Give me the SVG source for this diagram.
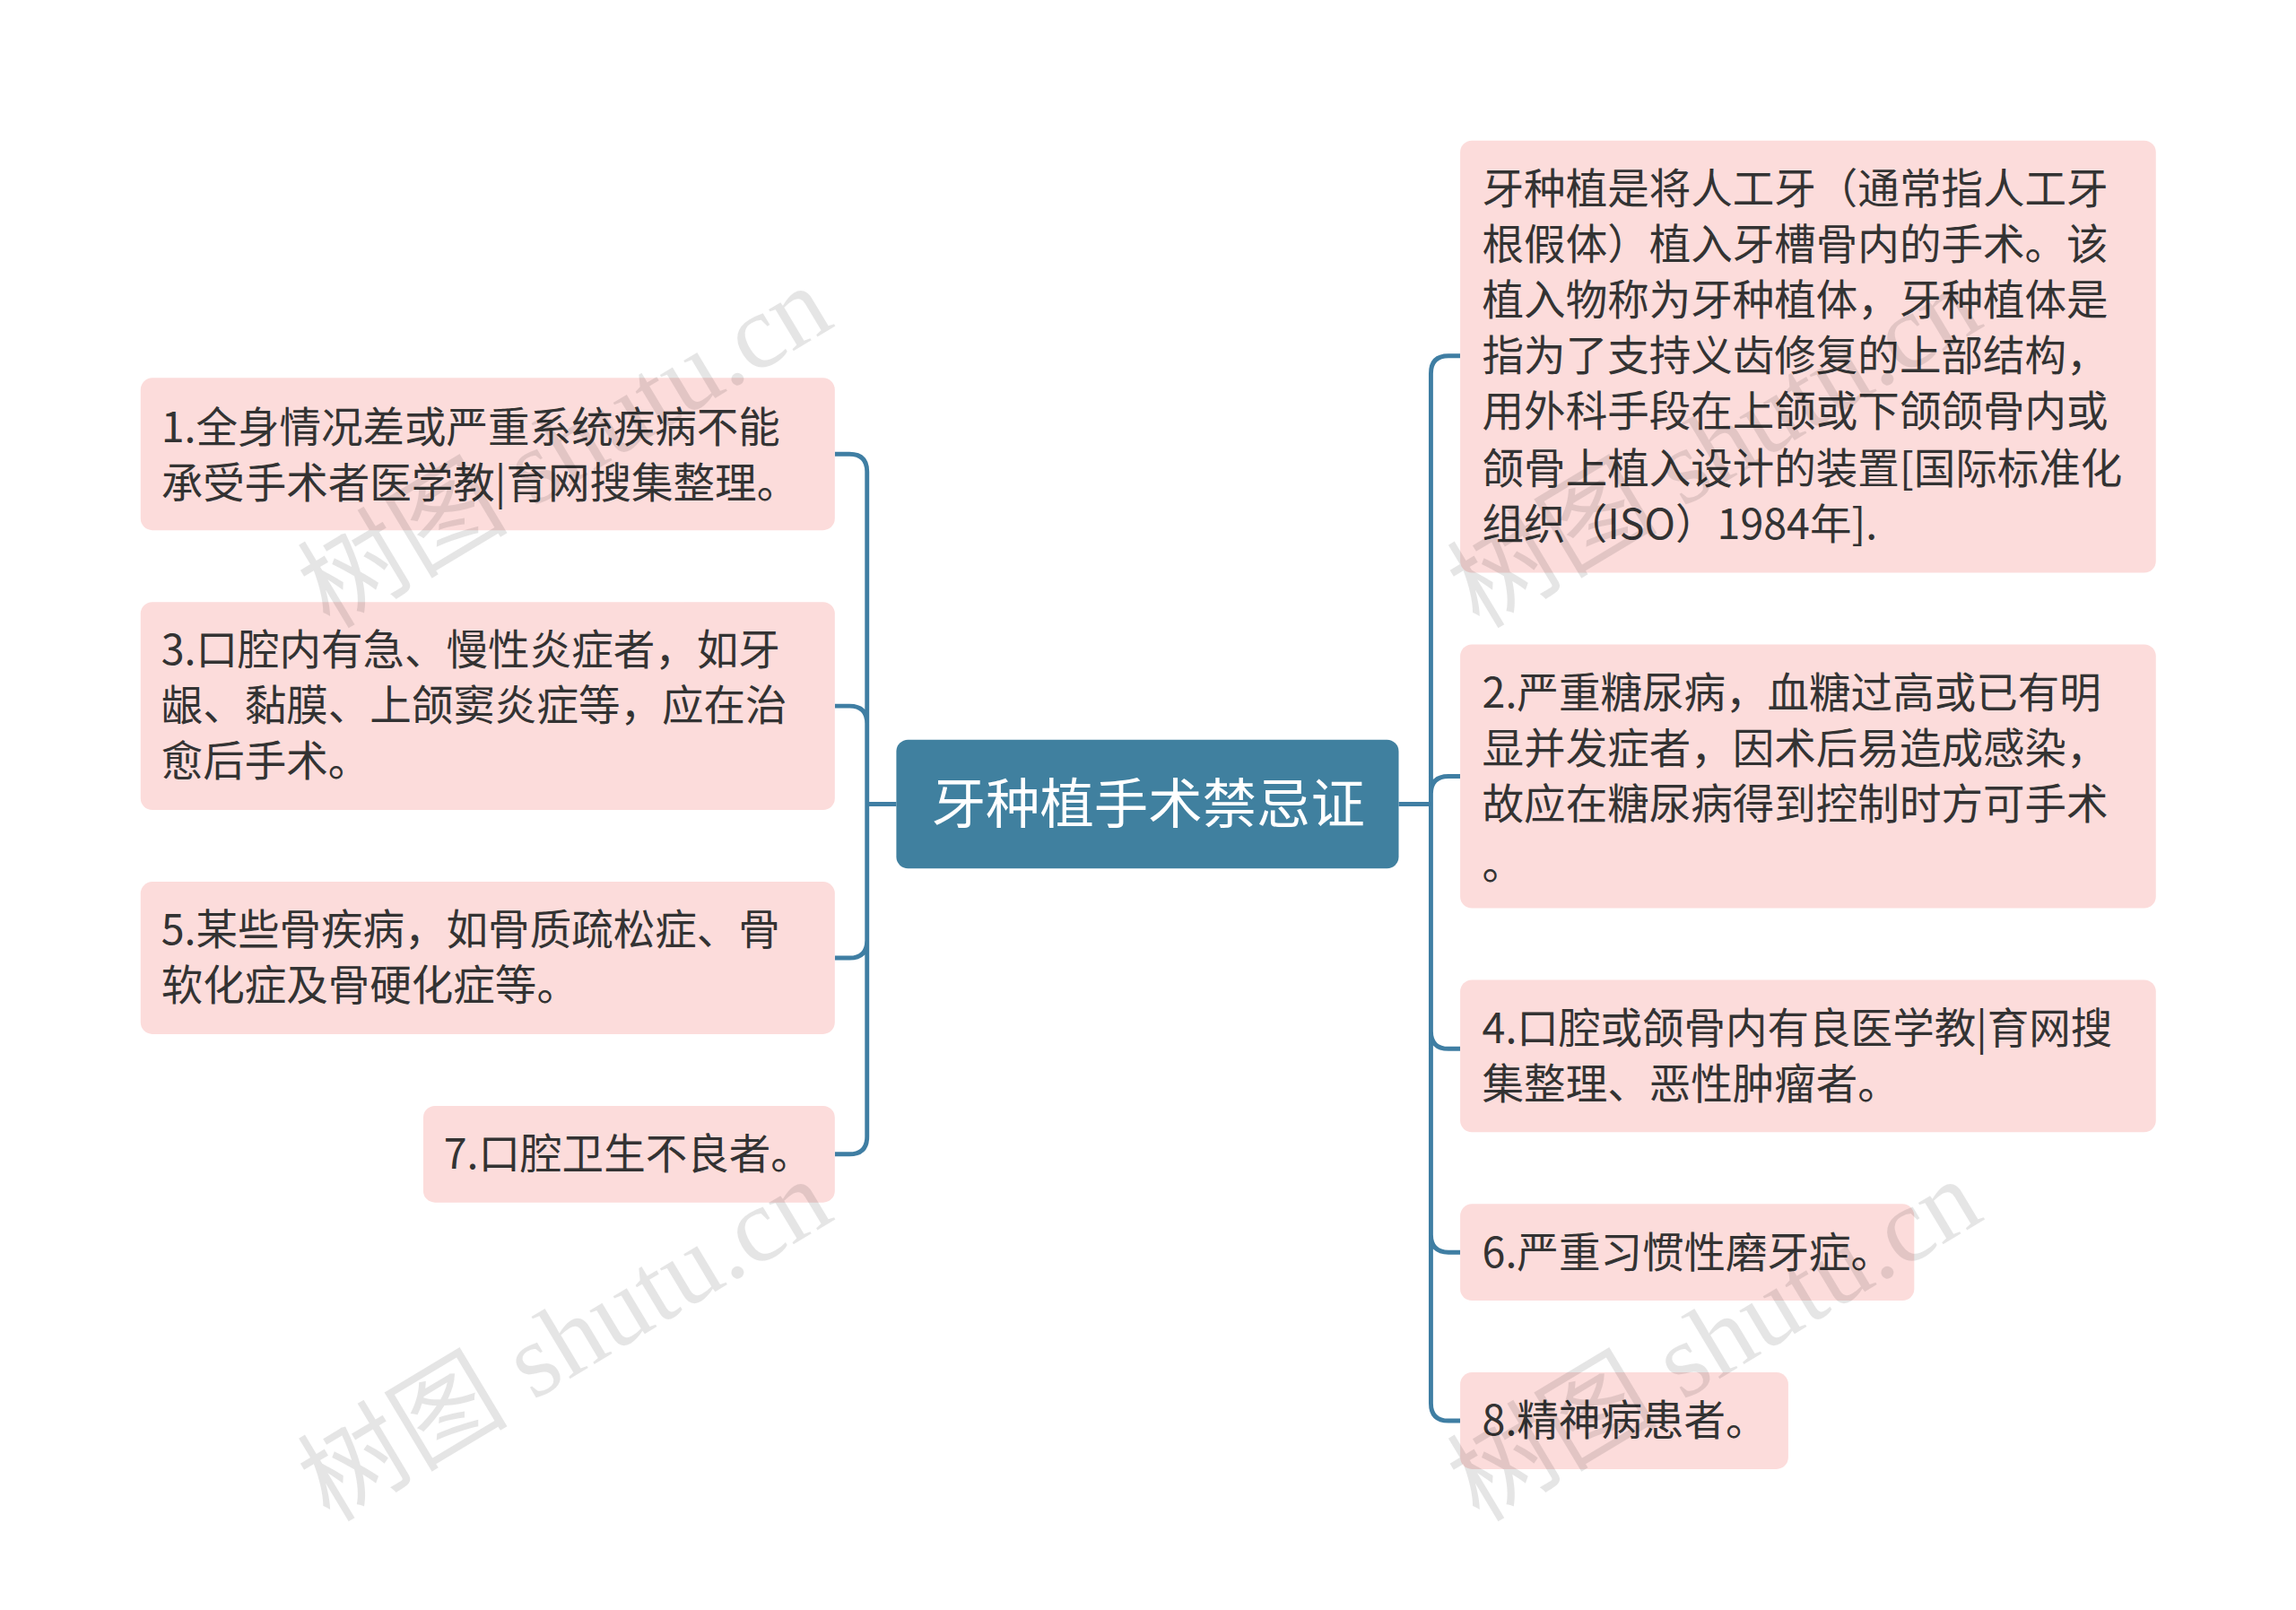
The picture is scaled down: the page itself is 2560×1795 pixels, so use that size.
<svg xmlns="http://www.w3.org/2000/svg" width="2560" height="1795" viewBox="0 0 2560 1795">
<style>
.n{fill:#fcdcdb}
.t{font-family:"Noto Sans CJK SC","Noto Sans",sans-serif;font-size:28.5px;fill:#333}
.c{fill:none;stroke:#3f7ea3;stroke-width:3}
.w{font-family:"Liberation Serif","Noto Sans CJK SC",serif;font-size:72px;fill:#000;fill-opacity:0.1}
</style>
<rect width="2560" height="1795" fill="#fff"/>
<g transform="scale(1.633)">
<g id="connectors">
<path class="c" d="M612,549H592 M592,549V322Q592,310 580,310H570 M592,549V494Q592,482 580,482H570 M592,549V642Q592,654 580,654H570 M592,549V776Q592,788 580,788H570"/>
<path class="c" d="M955,549H977 M977,549V255Q977,243 989,243H997 M977,549V542Q977,530 989,530H997 M977,549V704Q977,716 989,716H997 M977,549V843Q977,855 989,855H997 M977,549V958Q977,970 989,970H997"/>
</g>
<g id="center"><rect x="612" y="505" width="343" height="88" rx="8" fill="#40809f"/><text x="784" y="562" text-anchor="middle" style="font-family:'Noto Sans CJK SC',sans-serif;font-size:37px;fill:#fff">牙种植手术禁忌证</text></g>
<g id="n1"><rect class="n" x="96" y="258" width="474" height="104" rx="8"/><text class="t" x="110" y="302">1.全身情况差或严重系统疾病不能</text><text class="t" x="110" y="340">承受手术者医学教|育网搜集整理。</text></g>
<g id="n3"><rect class="n" x="96" y="411" width="474" height="142" rx="8"/><text class="t" x="110" y="454">3.口腔内有急、慢性炎症者，如牙</text><text class="t" x="110" y="492">龈、黏膜、上颌窦炎症等，应在治</text><text class="t" x="110" y="530">愈后手术。</text></g>
<g id="n5"><rect class="n" x="96" y="602" width="474" height="104" rx="8"/><text class="t" x="110" y="645">5.某些骨疾病，如骨质疏松症、骨</text><text class="t" x="110" y="683">软化症及骨硬化症等。</text></g>
<g id="n7"><rect class="n" x="289" y="755" width="281" height="66" rx="8"/><text class="t" x="303" y="798">7.口腔卫生不良者。</text></g>
<g id="r0"><rect class="n" x="997" y="96" width="475" height="295" rx="8"/>
<text class="t" x="1012" y="139">牙种植是将人工牙（通常指人工牙</text><text class="t" x="1012" y="177">根假体）植入牙槽骨内的手术。该</text><text class="t" x="1012" y="215">植入物称为牙种植体，牙种植体是</text><text class="t" x="1012" y="253">指为了支持义齿修复的上部结构，</text><text class="t" x="1012" y="291">用外科手段在上颌或下颌颌骨内或</text><text class="t" x="1012" y="330">颌骨上植入设计的装置[国际标准化</text><text class="t" x="1012" y="368">组织（ISO）1984年].</text></g>
<g id="n2"><rect class="n" x="997" y="440" width="475" height="180" rx="8"/><text class="t" x="1012" y="483">2.严重糖尿病，血糖过高或已有明</text><text class="t" x="1012" y="521">显并发症者，因术后易造成感染，</text><text class="t" x="1012" y="559">故应在糖尿病得到控制时方可手术</text><text class="t" x="1012" y="600">。</text></g>
<g id="n4"><rect class="n" x="997" y="669" width="475" height="104" rx="8"/><text class="t" x="1012" y="712">4.口腔或颌骨内有良医学教|育网搜</text><text class="t" x="1012" y="750">集整理、恶性肿瘤者。</text></g>
<g id="n6"><rect class="n" x="997" y="822" width="310" height="66" rx="8"/><text class="t" x="1012" y="865">6.严重习惯性磨牙症。</text></g>
<g id="n8"><rect class="n" x="997" y="937" width="224" height="66" rx="8"/><text class="t" x="1012" y="980">8.精神病患者。</text></g>
<g id="watermarks">
<text class="w" transform="translate(225,430) rotate(-31)">树图 shutu.cn</text>
<text class="w" transform="translate(225,1040) rotate(-31)">树图 shutu.cn</text>
<text class="w" transform="translate(1010,430) rotate(-31)">树图 shutu.cn</text>
<text class="w" transform="translate(1010,1040) rotate(-31)">树图 shutu.cn</text>
</g>
</g>
</svg>
